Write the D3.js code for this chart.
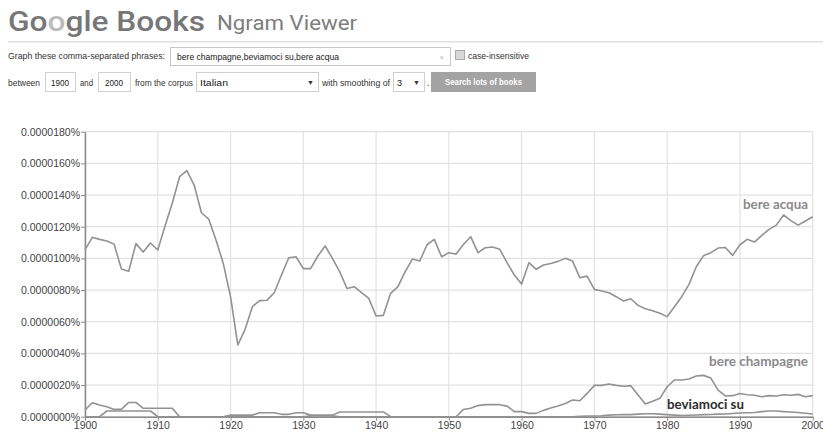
<!DOCTYPE html>
<html>
<head>
<meta charset="utf-8">
<script src="https://cdn.jsdelivr.net/npm/d3@7"></script>
<style>
  html, body { margin: 0; padding: 0; background: #fff; }
  svg { display: block; }
  text { font-family: "Liberation Sans", Arial, sans-serif; }
</style>
</head>
<body>
<script>
// values in millionths of a percent (10 => 0.0000100%)
var years = d3.range(1900, 2001);

var bereAcqua = [
  10.53, 11.33, 11.2, 11.1, 10.9, 9.33, 9.18, 10.93, 10.4, 10.97,
  10.53, 12.04, 13.5, 15.16, 15.54, 14.63, 12.88, 12.48, 11.16, 9.68,
  7.58, 4.53, 5.52, 6.95, 7.33, 7.35, 7.83, 8.95, 10.04, 10.1,
  9.35, 9.35, 10.15, 10.78, 10.0, 9.16, 8.1, 8.21, 7.83, 7.47,
  6.36, 6.4, 7.79, 8.21, 9.16, 9.96, 9.83, 10.86, 11.2, 10.1,
  10.36, 10.27, 10.88, 11.37, 10.36, 10.67, 10.72, 10.57, 9.73, 8.95,
  8.38, 9.73, 9.31, 9.58, 9.68, 9.81, 10.0, 9.83, 8.78, 8.88,
  8.04, 7.94, 7.83, 7.58, 7.31, 7.45, 7.03, 6.82, 6.69, 6.53,
  6.32, 6.95, 7.58, 8.36, 9.47, 10.17, 10.36, 10.65, 10.69, 10.19,
  10.86, 11.2, 11.03, 11.45, 11.83, 12.1, 12.74, 12.38, 12.1, 12.36,
  12.63
];

var bereChampagne = [
  0.42, 0.88, 0.74, 0.63, 0.46, 0.46, 0.9, 0.9, 0.53, 0.53,
  0.53, 0.53, 0.53, 0, 0, 0, 0, 0, 0, 0,
  0.1, 0.1, 0.1, 0.1, 0.25, 0.25, 0.25, 0.15, 0.15, 0.25,
  0.25, 0.1, 0.1, 0.1, 0.1, 0.3, 0.3, 0.3, 0.3, 0.3,
  0.3, 0.3, 0, 0, 0, 0, 0, 0, 0, 0,
  0, 0, 0.46, 0.53, 0.7, 0.76, 0.76, 0.76, 0.67, 0.32,
  0.32, 0.21, 0.21, 0.4, 0.55, 0.68, 0.84, 1.05, 1.01, 1.47,
  1.98, 1.98, 2.06, 1.98, 1.92, 1.96, 1.37, 0.8, 0.97, 1.16,
  1.89, 2.32, 2.32, 2.38, 2.57, 2.61, 2.44, 1.68, 1.31, 1.33,
  1.47, 1.39, 1.35, 1.26, 1.33, 1.31, 1.39, 1.35, 1.41, 1.26,
  1.33
];

var beviamociSu = [
  0, 0, 0, 0.36, 0.36, 0.36, 0.36, 0.36, 0.36, 0.36,
  0, 0, 0, 0, 0, 0, 0, 0, 0, 0,
  0, 0, 0, 0, 0, 0, 0, 0, 0, 0,
  0, 0.05, 0.05, 0.05, 0.05, 0, 0, 0, 0, 0,
  0, 0, 0, 0, 0, 0, 0, 0, 0, 0,
  0, 0, 0, 0, 0, 0, 0, 0, 0, 0,
  0, 0, 0, 0, 0, 0, 0, 0, 0.02, 0.04,
  0.04, 0.06, 0.1, 0.12, 0.13, 0.13, 0.16, 0.19, 0.19, 0.16,
  0.13, 0.1, 0.08, 0.09, 0.11, 0.13, 0.14, 0.16, 0.17, 0.2,
  0.23, 0.25, 0.27, 0.32, 0.36, 0.36, 0.32, 0.3, 0.27, 0.22,
  0.17
];

var seriesNames = ["bere acqua", "bere champagne", "beviamoci su"];
var yTicks = [0, 2, 4, 6, 8, 10, 12, 14, 16, 18];
var xTicks = [1900, 1910, 1920, 1930, 1940, 1950, 1960, 1970, 1980, 1990, 2000];

var W = 823, H = 433;
var svg = d3.select("body").append("svg").attr("width", W).attr("height", H);

// ---- header ----
var logo = svg.append("text").attr("x", 8).attr("y", 31)
  .style("font-family", "Roboto, 'Open Sans', sans-serif").style("font-size", "27px").style("font-weight", 500)
  .attr("textLength", 197).attr("lengthAdjust", "spacingAndGlyphs");
logo.append("tspan").attr("fill", "#777").text("Go");
logo.append("tspan").attr("fill", "#bbb").text("o");
logo.append("tspan").attr("fill", "#777").text("gle Books");
svg.append("text").attr("x", 217).attr("y", 30)
  .style("font-family", "Roboto, 'Open Sans', sans-serif").style("font-size", "20px")
  .attr("fill", "#7d7d7d").attr("textLength", 140).attr("lengthAdjust", "spacingAndGlyphs")
  .text("Ngram Viewer");
svg.append("rect").attr("x", 8).attr("y", 41).attr("width", 815).attr("height", 1.5).attr("fill", "#dedede");

// ---- form ----
var formText = "#333";
function label(x, yy, txt, w) {
  var t = svg.append("text").attr("x", x).attr("y", yy).style("font-size", "9px").attr("fill", formText).text(txt);
  if (w) t.attr("textLength", w).attr("lengthAdjust", "spacingAndGlyphs");
  return t;
}
label(8, 59, "Graph these comma-separated phrases:", 157);
svg.append("rect").attr("x", 170.5).attr("y", 47.5).attr("width", 280).attr("height", 18)
  .attr("fill", "#fff").attr("stroke", "#c8c8c8");
label(177, 59.5, "bere champagne,beviamoci su,bere acqua", 162).attr("fill", "#222");
svg.append("text").attr("x", 440).attr("y", 60).style("font-size", "7px").attr("fill", "#ccc").text("\u25BE");
svg.append("rect").attr("x", 455.5).attr("y", 50.5).attr("width", 9).attr("height", 9)
  .attr("fill", "#d8d8d8").attr("stroke", "#aaa");
label(468, 59, "case-insensitive", 61);

function box(x, w, txt, tw, arrow) {
  svg.append("rect").attr("x", x + 0.5).attr("y", 72.5).attr("width", w).attr("height", 19)
    .attr("fill", "#fff").attr("stroke", "#d0d0d0");
  svg.append("text").attr("x", arrow ? x + 4 : x + w / 2).attr("y", 85.5)
    .attr("text-anchor", arrow ? "start" : "middle").style("font-size", "9px").attr("fill", "#222")
    .attr("textLength", tw).attr("lengthAdjust", "spacingAndGlyphs").text(txt);
  if (arrow) svg.append("text").attr("x", x + w - 11).attr("y", 85).style("font-size", "7px").attr("fill", "#333").text("\u25BC");
}
label(8, 85.5, "between", 32);
box(45, 30, "1900", 18);
label(80, 85.5, "and", 13);
box(98, 32, "2000", 18);
label(135, 85.5, "from the corpus", 58);
box(196, 122, "Italian", 28, true);
label(322, 85.5, "with smoothing of", 68);
box(393, 31, "3", 5, true);
label(427, 85.5, ".");
svg.append("rect").attr("x", 431).attr("y", 72).attr("width", 105).attr("height", 20).attr("fill", "#a3a3a3");
svg.append("text").attr("x", 483.5).attr("y", 85).attr("text-anchor", "middle").style("font-size", "8.5px")
  .style("font-weight", "bold").attr("fill", "#fff").attr("textLength", 77).attr("lengthAdjust", "spacingAndGlyphs")
  .text("Search lots of books");

// ---- chart ----
var plotL = 85, plotR = 812.7, plotT = 131.7, plotB = 416.7;
var x = d3.scaleLinear().domain([1900, 2000]).range([plotL, plotR]);
var y = d3.scaleLinear().domain([0, 18]).range([plotB, plotT]);

var grid = svg.append("g");
grid.selectAll(".hg").data(yTicks).join("line").attr("class", "hg")
  .attr("x1", plotL).attr("x2", plotR).attr("y1", function (d) { return y(d); }).attr("y2", function (d) { return y(d); })
  .attr("stroke", "#e2e2e2").attr("stroke-width", 1.2);
grid.selectAll(".vg").data(xTicks).join("line").attr("class", "vg")
  .attr("x1", function (d) { return x(d); }).attr("x2", function (d) { return x(d); })
  .attr("y1", plotT).attr("y2", plotB).attr("stroke", "#e2e2e2").attr("stroke-width", 1.2);

var yAxis = svg.append("g").attr("transform", "translate(" + plotL + ",0)")
  .call(d3.axisLeft(y).tickValues(yTicks).tickSize(4).tickSizeOuter(0)
    .tickFormat(function (d) { return (d * 1e-6).toFixed(7) + "%"; }));
var xAxis = svg.append("g").attr("transform", "translate(0," + plotB + ")")
  .call(d3.axisBottom(x).tickValues(xTicks).tickSize(4).tickSizeOuter(0).tickFormat(d3.format("d")));
[yAxis, xAxis].forEach(function (a) {
  a.select(".domain").attr("stroke", "#8a8a8a").attr("stroke-width", 1.5);
  a.selectAll(".tick line").attr("stroke", "#8a8a8a");
  a.selectAll("text").attr("fill", "#444").style("font-size", "10.5px")
    .style("font-family", "'Liberation Sans', Arial, sans-serif");
});
yAxis.selectAll("text").attr("x", -5);
xAxis.selectAll("text").attr("y", 5);

var line = d3.line().x(function (d, i) { return x(years[i]); }).y(function (d) { return y(d); });
var allSeries = [bereChampagne, beviamociSu, bereAcqua];
svg.selectAll(".series").data(allSeries).join("path").attr("class", "series")
  .attr("d", line).attr("fill", "none").attr("stroke", "#929292").attr("stroke-width", 1.6)
  .attr("stroke-linejoin", "round");

// series labels
var labels = [
  { name: seriesNames[0], x: 808, y: 209, w: 65, c: "#8a8a8a" },
  { name: seriesNames[1], x: 808, y: 366, w: 99, c: "#8a8a8a" },
  { name: seriesNames[2], x: 744, y: 409, w: 77, c: "#2e2e2e" }
];
svg.selectAll(".lbl").data(labels).join("text").attr("class", "lbl")
  .attr("x", function (d) { return d.x; }).attr("y", function (d) { return d.y; })
  .attr("text-anchor", "end").attr("fill", function (d) { return d.c; })
  .attr("textLength", function (d) { return d.w; }).attr("lengthAdjust", "spacingAndGlyphs")
  .style("font-family", "Lato, 'Open Sans', sans-serif").style("font-weight", "bold").style("font-size", "14px")
  .text(function (d) { return d.name; });
</script>
</body>
</html>
